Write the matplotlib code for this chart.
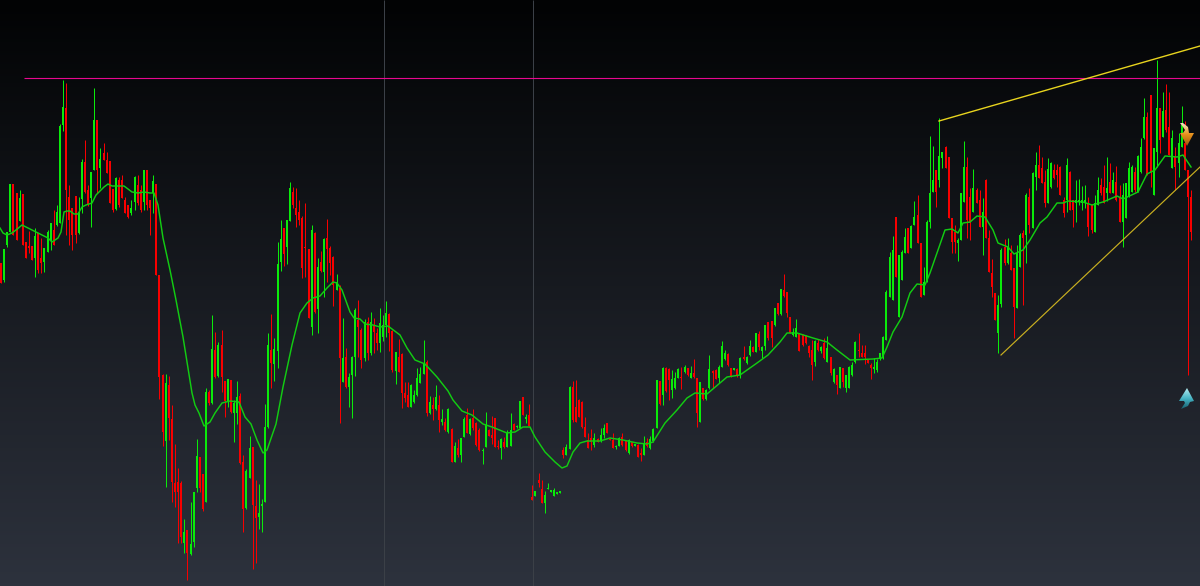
#!/usr/bin/env python3
"""Dark candlestick chart with a moving average, trend lines and signal arrows."""

import matplotlib

matplotlib.use("Agg")

import matplotlib.pyplot as plt
import numpy as np
from matplotlib.colors import LinearSegmentedColormap
from matplotlib.patches import Polygon

# candle direction, g = up, r = down
direction = (
    "rgggrrgrrr" "rgrrgggrgg" "grrrrggrrg" "grgrrrrgrr" "rrggrrgrrg"
    "rrrgrrrrrg" "rgggrrgrgr" "grrgrggrrg" "grrggggrgg" "grggrrrrrr"
    "grgrgrrrgr" "grgggrrgrg" "rrgggrrgrr" "rrgggggrgr" "grgrgrgrgg"
    "rgrrrggrrr" "rgrggrggrg" "rrgrrggggg" "grggrrrrrr" "rgrggrrrgg"
    "rrgrgrrgrg" "ggrgrrgggr" "grgrrgrggr" "rgggrrgrgr" "ggrgrggrrg"
    "rgrrrggrrr" "rrgrgrgrgr" "grggggrrrr" "rgggggggrg" "ggrggrrggg"
    "grggrrrrgg" "grrgrrgrrr" "rggrgrrggr" "grggrrrggr" "rrrgrrgggg"
    "rrggrrgrgr" "rggggrgggr" "rggrgrrgrg" "grrr"
)

wick_high = [
    337, 351, 368, 416, 416, 407, 410, 406, 358, 369,
    354, 372, 367, 362, 352, 370, 377, 390, 395, 476,
    520, 517, 415, 392, 404, 403, 441, 460, 415, 428,
    512, 480, 452, 457, 448, 439, 411, 423, 423, 425,
    403, 395, 400, 424, 425, 415, 430, 430, 400, 425,
    416, 325, 226, 226, 224, 195, 156, 132, 119, 81,
    70, 98, 108, 161, 143, 126, 212, 210, 285, 268,
    258, 270, 219, 221, 220, 200, 219, 207, 145, 131,
    164, 153, 120, 116, 101, 196, 267, 286, 262, 358,
    380, 372, 380, 418, 413, 412, 400, 384, 397, 351,
    375, 368, 342, 349, 362, 381, 354, 344, 326, 315,
    282, 252, 227, 244, 292, 300, 272, 281, 283, 288,
    282, 272, 292, 285, 299, 287, 270, 248, 261, 247,
    218, 218, 216, 210, 232, 233, 260, 240, 204, 203,
    215, 205, 191, 182, 192, 172, 158, 161, 162, 183,
    192, 182, 191, 178, 172, 152, 188, 171, 184, 182,
    160, 162, 163, 170, 187, 177, 175, 199, 203, 186,
    196, 115, 109, 127, 120, 109, 117, 110, 112, 108,
    109, 153, 156, 214, 219, 220, 201, 199, 183, 167,
    171, 167, 162, 172, 176, 177, 162, 167, 155, 163,
    167, 160, 161, 158, 156, 156, 152, 164, 162, 164,
    172, 220, 219, 233, 233, 232, 230, 228, 232, 233,
    235, 232, 234, 241, 222, 218, 212, 211, 245, 230,
    231, 235, 259, 250, 247, 232, 232, 232, 243, 254,
    244, 260, 254, 267, 269, 254, 275, 278, 279, 292,
    297, 311, 326, 308, 283, 272, 281, 267, 266, 265,
    255, 260, 260, 261, 254, 262, 264, 243, 232, 225,
    233, 232, 225, 234, 238, 259, 267, 255, 255, 240,
    237, 242, 241, 247, 264, 310, 348, 364, 383, 345,
    350, 372, 372, 375, 399, 405, 357, 333, 380, 464,
    454, 430, 482, 448, 454, 443, 382, 375, 362, 407,
    459, 443, 412, 431, 412, 410, 402, 421, 370, 341,
    307, 305, 352, 361, 362, 355, 332, 355, 367, 370,
    407, 412, 428, 448, 455, 443, 430, 442, 438, 436,
    436, 434, 403, 442, 429, 400, 420, 421, 414, 415,
    403, 395, 405, 423, 422, 435, 443, 437, 428, 434,
    415, 417, 417, 438, 435, 433, 445, 462, 502, 488,
    505, 452, 540, 492, 508, 516, 508, 470, 453, 467,
    494, 479, 430, 410,
]

body_top = [
    337, 351, 368, 416, 416, 407, 402, 406, 358, 354,
    354, 364, 367, 342, 352, 368, 377, 370, 388, 474,
    493, 492, 403, 392, 404, 388, 438, 438, 410, 428,
    480, 480, 441, 447, 440, 439, 411, 422, 420, 420,
    400, 395, 392, 423, 415, 410, 430, 430, 400, 419,
    416, 325, 225, 217, 215, 181, 117, 118, 117, 68,
    70, 56, 108, 144, 143, 126, 208, 208, 251, 250,
    255, 255, 219, 221, 220, 197, 203, 204, 138, 129,
    152, 153, 94, 87, 96, 173, 255, 250, 251, 336,
    361, 372, 380, 412, 408, 392, 388, 382, 353, 351,
    370, 367, 333, 338, 361, 362, 352, 343, 318, 312,
    242, 243, 223, 243, 290, 280, 270, 278, 278, 278,
    275, 267, 277, 275, 287, 286, 269, 248, 243, 246,
    207, 205, 215, 205, 222, 226, 237, 238, 198, 195,
    203, 195, 181, 178, 191, 171, 154, 152, 162, 181,
    185, 181, 182, 177, 170, 150, 175, 170, 165, 182,
    154, 161, 158, 167, 170, 176, 174, 199, 203, 183,
    185, 103, 109, 120, 111, 105, 112, 110, 110, 108,
    109, 150, 153, 213, 213, 193, 200, 198, 173, 160,
    162, 162, 161, 165, 172, 177, 161, 160, 154, 162,
    163, 160, 160, 158, 156, 155, 147, 157, 158, 161,
    171, 220, 219, 232, 232, 231, 221, 222, 231, 223,
    233, 232, 227, 227, 222, 218, 212, 210, 231, 229,
    230, 233, 254, 247, 246, 232, 232, 231, 242, 243,
    243, 254, 253, 267, 266, 253, 275, 278, 279, 292,
    297, 311, 310, 308, 283, 268, 272, 267, 265, 264,
    254, 250, 259, 257, 253, 257, 252, 243, 231, 225,
    233, 232, 225, 233, 235, 258, 250, 247, 247, 240,
    235, 233, 238, 247, 263, 308, 343, 350, 383, 345,
    348, 363, 372, 374, 383, 385, 357, 318, 378, 407,
    420, 430, 444, 448, 453, 443, 382, 368, 360, 407,
    433, 433, 403, 412, 410, 400, 388, 420, 362, 327,
    307, 295, 350, 353, 353, 347, 332, 347, 365, 367,
    405, 403, 427, 435, 435, 432, 418, 431, 437, 430,
    430, 433, 400, 435, 428, 400, 400, 400, 400, 400,
    397, 395, 397, 410, 415, 413, 412, 418, 420, 418,
    403, 405, 417, 432, 433, 428, 444, 453, 483, 483,
    505, 452, 492, 492, 489, 490, 473, 462, 443, 457,
    475, 457, 430, 403,
]

body_bottom = [
    317, 320, 355, 368, 365, 360, 379, 355, 342, 352,
    340, 342, 330, 337, 338, 348, 360, 355, 375, 377,
    475, 410, 380, 365, 365, 367, 401, 408, 395, 402,
    430, 430, 432, 440, 427, 397, 390, 391, 395, 402,
    387, 383, 387, 398, 397, 390, 398, 395, 392, 407,
    325, 223, 168, 159, 182, 118, 108, 108, 63, 57,
    47, 46, 58, 112, 112, 91, 98, 197, 197, 223,
    224, 223, 199, 199, 188, 187, 187, 137, 91, 92,
    122, 95, 82, 83, 94, 98, 173, 237, 236, 249,
    338, 346, 353, 379, 395, 385, 380, 332, 352, 282,
    273, 288, 291, 329, 328, 351, 337, 315, 310, 242,
    218, 213, 213, 225, 243, 273, 240, 242, 247, 247,
    268, 257, 257, 263, 275, 267, 230, 229, 228, 207,
    202, 193, 193, 198, 205, 217, 226, 187, 187, 191,
    191, 180, 178, 170, 168, 138, 138, 145, 145, 163,
    167, 166, 172, 155, 150, 149, 153, 164, 162, 153,
    153, 152, 153, 153, 154, 170, 173, 172, 185, 181,
    174, 100, 104, 117, 97, 97, 111, 108, 104, 106,
    107, 145, 145, 151, 180, 178, 183, 173, 163, 152,
    158, 155, 158, 159, 165, 167, 160, 152, 153, 154,
    155, 150, 147, 154, 154, 143, 145, 145, 154, 152,
    159, 172, 196, 205, 209, 220, 210, 212, 222, 222,
    228, 225, 222, 223, 187, 178, 201, 201, 212, 227,
    221, 222, 233, 241, 235, 223, 230, 225, 225, 241,
    237, 245, 248, 248, 253, 249, 254, 262, 262, 275,
    286, 286, 304, 287, 267, 265, 263, 249, 255, 257,
    247, 235, 238, 250, 249, 242, 238, 227, 218, 215,
    212, 218, 212, 212, 225, 238, 249, 243, 243, 237,
    232, 231, 230, 241, 242, 260, 303, 300, 323, 283,
    320, 347, 347, 352, 375, 357, 303, 305, 318, 378,
    408, 408, 420, 442, 432, 382, 358, 358, 357, 360,
    398, 380, 377, 388, 397, 373, 373, 362, 328, 313,
    280, 267, 296, 337, 337, 330, 293, 292, 333, 362,
    365, 375, 372, 423, 422, 417, 397, 397, 413, 422,
    425, 405, 387, 400, 390, 390, 397, 398, 397, 397,
    373, 370, 368, 395, 407, 397, 407, 407, 407, 400,
    378, 378, 382, 403, 408, 410, 408, 428, 462, 425,
    427, 405, 448, 460, 463, 470, 445, 432, 433, 437,
    453, 430, 403, 368,
]

wick_low = [
    317, 318, 353, 368, 365, 360, 379, 355, 342, 347,
    340, 323, 327, 327, 328, 348, 350, 355, 374, 377,
    469, 365, 355, 350, 357, 366, 387, 407, 394, 373,
    430, 407, 412, 440, 427, 397, 388, 390, 393, 402,
    387, 382, 385, 390, 395, 388, 390, 390, 365, 387,
    325, 201, 154, 113, 160, 98, 93, 57, 57, 47,
    20, 45, 53, 108, 108, 89, 98, 195, 196, 222,
    223, 208, 183, 193, 187, 158, 176, 136, 68, 91,
    122, 31, 37, 71, 68, 98, 172, 212, 219, 232,
    329, 334, 336, 379, 392, 373, 375, 322, 323, 282,
    265, 287, 267, 328, 303, 318, 325, 294, 310, 177,
    218, 212, 193, 182, 224, 243, 232, 239, 240, 245,
    247, 250, 248, 259, 263, 249, 228, 216, 228, 192,
    198, 193, 193, 197, 204, 217, 226, 184, 186, 180,
    190, 168, 175, 169, 167, 138, 138, 143, 138, 163,
    167, 165, 170, 154, 149, 136, 153, 164, 156, 153,
    151, 141, 152, 153, 154, 170, 172, 172, 185, 177,
    174, 100, 104, 113, 97, 87, 111, 108, 104, 106,
    107, 142, 145, 151, 178, 178, 183, 172, 163, 152,
    150, 153, 158, 158, 162, 167, 160, 152, 151, 154,
    154, 149, 146, 153, 154, 143, 139, 145, 153, 151,
    158, 172, 195, 195, 208, 200, 202, 211, 222, 211,
    227, 224, 222, 222, 173, 178, 200, 200, 211, 212,
    221, 217, 233, 240, 234, 223, 230, 223, 222, 240,
    236, 244, 248, 248, 250, 242, 250, 260, 253, 274,
    285, 285, 303, 283, 267, 264, 263, 249, 254, 256,
    243, 220, 234, 249, 247, 241, 238, 225, 217, 206,
    212, 213, 208, 212, 224, 237, 243, 243, 236, 237,
    221, 227, 228, 240, 241, 260, 303, 300, 323, 283,
    320, 347, 347, 352, 375, 357, 303, 305, 318, 372,
    408, 393, 413, 432, 432, 382, 347, 347, 339, 360,
    398, 362, 360, 388, 397, 373, 345, 362, 328, 303,
    280, 247, 293, 335, 336, 330, 262, 292, 333, 295,
    337, 367, 372, 410, 422, 417, 393, 397, 412, 421,
    413, 405, 383, 388, 390, 373, 378, 395, 390, 392,
    364, 367, 368, 395, 405, 397, 399, 407, 407, 399,
    378, 353, 382, 403, 408, 408, 408, 427, 461, 425,
    413, 405, 433, 447, 463, 468, 445, 432, 410, 423,
    453, 430, 225, 360,
]

# moving average as (time, price) pairs
ma_time = [
    0, 3, 7, 12, 16, 22, 28, 34, 40, 48, 52, 58, 61, 64, 67, 70, 74, 78, 82, 86,
    92, 96, 104, 108, 112, 118, 124, 132, 138, 144, 150, 154, 158, 163, 170, 176,
    183, 192, 195, 199, 204, 210, 215, 222, 230, 239, 245, 251, 257, 263, 267, 276,
    283, 292, 300, 307, 313, 320, 327, 333, 337, 342, 350, 354, 360, 365, 373, 380,
    388, 400, 407, 415, 425, 437, 448, 453, 462, 472, 483, 492, 507, 515, 523, 530,
    535, 545, 555, 562, 567, 573, 580, 587, 600, 610, 623, 637, 647, 653, 665, 677,
    687, 695, 707, 720, 727, 740, 757, 768, 780, 787, 797, 813, 827, 837, 850, 873,
    882, 887, 893, 902, 910, 917, 925, 930, 938, 945, 952, 958, 963, 970, 977, 985,
    993, 998, 1008, 1014, 1023, 1030, 1040, 1047, 1057, 1063, 1068, 1083, 1092, 1103,
    1117, 1123, 1138, 1147, 1155, 1165, 1177, 1183, 1191,
]
ma_price = [
    372, 367, 365, 367, 370, 375, 372, 369, 366, 362, 358, 362, 368, 388, 389, 389, 386, 386, 393, 395,
    397, 405, 413, 416, 414, 414, 414, 408, 407, 408, 407, 407, 395, 362, 330, 300,
    263, 207, 195, 187, 174, 178, 187, 197, 199, 198, 183, 176, 160, 147, 150, 176,
    213, 255, 287, 297, 302, 304, 312, 318, 317, 310, 288, 282, 281, 276, 275, 273,
    274, 265, 252, 240, 236, 223, 209, 200, 189, 185, 176, 173, 167, 168, 173, 173,
    163, 148, 138, 132, 134, 148, 157, 159, 159, 162, 160, 157, 156, 158, 177, 190,
    202, 207, 206, 217, 223, 225, 237, 245, 258, 267, 267, 262, 258, 250, 240, 241,
    242, 253, 268, 283, 307, 316, 315, 327, 350, 370, 371, 367, 377, 378, 384, 383,
    370, 357, 353, 346, 350, 360, 377, 383, 397, 397, 399, 398, 395, 398,
    404, 401, 408, 426, 430, 444, 443, 445, 433,
]

resistance_price = 522
resistance_start = 24
upper_trend_time = [939, 1200]
upper_trend_price = [479, 554]
lower_trend_time = [1001, 1200]
lower_trend_price = [245, 433]
cursor_times = [384, 533]

GREEN = "#0aeb0a"
RED = "#f80000"


def gradient_fill(ax, outline, colors):
    patch = Polygon(outline, closed=True, transform=ax.transData, facecolor="none", edgecolor="none")
    ax.add_patch(patch)
    xs = [p[0] for p in outline]
    ys = [p[1] for p in outline]
    cmap = LinearSegmentedColormap.from_list("icon", colors)
    img = ax.imshow(np.linspace(0, 1, 64).reshape(-1, 1), cmap=cmap, aspect="auto", zorder=6,
                    extent=(min(xs), max(xs), min(ys), max(ys)), origin="upper")
    img.set_clip_path(patch)


def main() -> None:
    fig = plt.figure(figsize=(12, 5.86), dpi=100)
    ax = fig.add_axes([0, 0, 1, 1])

    background = LinearSegmentedColormap.from_list("bg", ["#020304", "#2d323d"])
    ax.imshow(np.linspace(0, 1, 586).reshape(-1, 1), cmap=background, aspect="auto",
              extent=(0, 1200, 14, 600), origin="upper", zorder=0)

    n = min(len(direction), len(wick_high), len(body_top), len(body_bottom), len(wick_low))
    times = 1.0 + 3.107 * np.arange(n)
    high = np.array(wick_high[:n])
    low = np.array(wick_low[:n])
    top = np.array(body_top[:n])
    bottom = np.array(body_bottom[:n])
    up = np.array(list(direction[:n])) == "g"

    ax.vlines(cursor_times, 14, 600, color="#3b4047", lw=0.72, zorder=1).set_snap(True)

    for mask, color in ((~up, RED), (up, GREEN)):
        ax.vlines(times[mask], low[mask], high[mask], color=color, lw=0.72, zorder=2).set_snap(True)
        ax.vlines(times[mask], bottom[mask], top[mask], color=color, lw=1.44, zorder=3).set_snap(True)

    ax.plot(ma_time, ma_price, color="#12cc12", lw=1.05, zorder=4)

    ax.hlines(resistance_price, resistance_start, 1200, color="#e8088f", lw=0.8, zorder=5)
    ax.plot(upper_trend_time, upper_trend_price, color="#e8d41e", lw=1.0, zorder=5)
    ax.plot(lower_trend_time, lower_trend_price, color="#c9b020", lw=0.85, zorder=5)

    # signal arrows
    sell_arrow = [(1180, 477), (1183, 477), (1188, 473), (1189, 467), (1194, 467), (1187, 454),
                  (1180, 467), (1183, 467), (1185, 470), (1183, 473)]
    gradient_fill(ax, sell_arrow, ["#f4e6c8", "#e8911a", "#9a570a"])
    buy_arrow = [(1187, 212), (1194, 199), (1190, 198), (1188, 194), (1181, 191), (1185, 197),
                 (1184, 199), (1179, 199)]
    gradient_fill(ax, buy_arrow, ["#b4ecf2", "#45b4c4", "#17606e"])

    ax.set_xlim(0, 1200)
    ax.set_ylim(14, 600)
    ax.axis("off")
    fig.savefig("out.png", dpi=100)
    plt.close(fig)


if __name__ == "__main__":
    main()
